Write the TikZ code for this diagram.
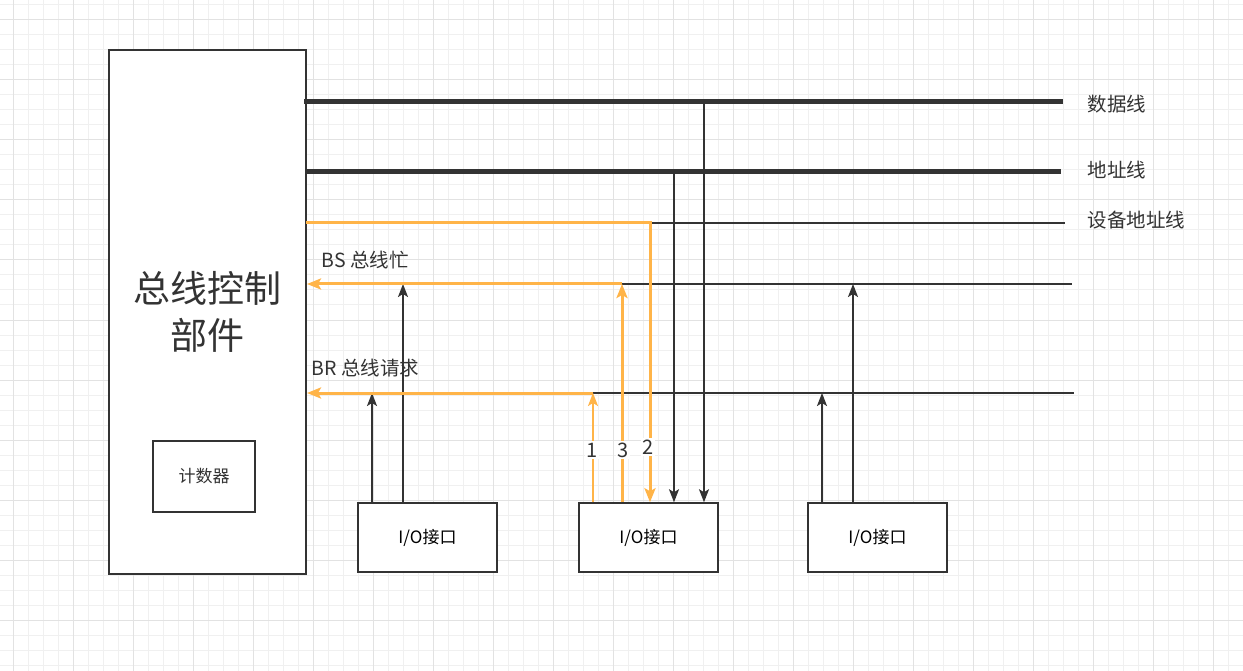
\documentclass[tikz,border=0pt]{standalone}
\usepackage{fontspec}
\setmainfont{Noto Sans CJK SC}
\usetikzlibrary{arrows.meta}
\definecolor{busorange}{RGB}{255,180,72}
\definecolor{busdark}{RGB}{51,51,51}
\definecolor{gridminor}{RGB}{240,240,240}
\definecolor{gridmajor}{RGB}{226,226,226}
\tikzstyle{unit} = [
    rectangle,
    draw=busdark,
    line width=1.5pt,
    inner sep=0pt
]
\tikzstyle{iobox} = [
    unit,
    minimum width=139pt,
    minimum height=69pt,
    font=\fontsize{17}{20}\selectfont
]
\tikzstyle{buslabel} = [anchor=west, text=busdark, font=\fontsize{19.5}{23}\selectfont]
\tikzstyle{num} = [fill=white, inner sep=1.5pt, text=busdark, font=\fontsize{20}{24}\selectfont]
\tikzstyle{thickbus} = [draw=busdark, line width=5pt]
\tikzstyle{thinbus} = [draw=busdark, line width=1.5pt]
\tikzstyle{darrow} = [draw=busdark, line width=1.8pt, -{Stealth[length=13pt,width=10pt,inset=3pt]}]
\tikzstyle{oarrow} = [draw=busorange, line width=3pt, -{Stealth[length=14pt,width=11pt,inset=3pt]}]
\tikzstyle{othin} = [draw=busorange, line width=1.5pt, -{Stealth[length=13pt,width=10pt,inset=3pt]}]

\begin{document}
\begin{tikzpicture}[x=1pt, y=-1pt]

\useasboundingbox (0,0) rectangle (1243,671);
\fill[white] (0,0) rectangle (1243,671);
\foreach \gx in {13,28,...,1243} \draw[gridminor, line width=1pt] (\gx,0) -- (\gx,671);
\foreach \gy in {5,20,...,671} \draw[gridminor, line width=1pt] (0,\gy) -- (1243,\gy);
\foreach \gx in {13,73,...,1243} \draw[gridmajor, line width=1pt] (\gx,0) -- (\gx,671);
\foreach \gy in {20,80,...,671} \draw[gridmajor, line width=1pt] (0,\gy) -- (1243,\gy);

\node (ctrl) [unit, fill=white, minimum width=197pt, minimum height=524pt, align=center,
    text=busdark, font=\fontsize{37}{47}\selectfont] at (207.5,312) {总线控制\\部件};
\node (counter) [unit, minimum width=102pt, minimum height=71pt,
    text=busdark, font=\fontsize{17}{20}\selectfont] at (204,476.5) {计数器};

\node (io1) [iobox, fill=white] at (427.5,537.5) {I/O接口};
\node (io2) [iobox, fill=white] at (648.5,537.5) {I/O接口};
\node (io3) [iobox, fill=white] at (877.5,537.5) {I/O接口};

\coordinate (dataW) at (304,102);
\coordinate (dataE) at (1063,102);
\coordinate (addrW) at (306,172);
\coordinate (addrE) at (1061,172);
\coordinate (devW) at (306,223);
\coordinate (devT) at (650,223);
\coordinate (devE) at (1065,223);
\coordinate (bsW) at (307,284);
\coordinate (bsT) at (622,284);
\coordinate (bsE) at (1072,284);
\coordinate (brW) at (307,393);
\coordinate (brT) at (593,393);
\coordinate (brE) at (1074,393);

\coordinate (dataTap) at (704,102);
\coordinate (addrTap) at (674,172);
\coordinate (bs1) at (403,284);
\coordinate (br1) at (372,393);
\coordinate (bs3) at (853,284);
\coordinate (br3) at (822,393);

\draw [thickbus] (dataW) -- (dataE);
\draw [thickbus] (addrW) -- (addrE);
\draw [thinbus] (devT) -- (devE);
\draw [thinbus] (bsT) -- (bsE);
\draw [thinbus] (brT) -- (brE);

\node (datalbl) [buslabel] at (1084,104) {数据线};
\node (addrlbl) [buslabel] at (1084,170) {地址线};
\node (devlbl) [buslabel] at (1084,220) {设备地址线};
\node (bslbl) [buslabel] at (318,260) {BS 总线忙};
\node (brlbl) [buslabel] at (308,368) {BR 总线请求};

\draw [darrow] (dataTap) -- (io2.north -| dataTap);
\draw [darrow] (addrTap) -- (io2.north -| addrTap);
\draw [darrow] (io1.north -| br1) -- (br1);
\draw [darrow] (io1.north -| bs1) -- (bs1);
\draw [darrow] (io3.north -| br3) -- (br3);
\draw [darrow] (io3.north -| bs3) -- (bs3);

\draw [oarrow] (devW) -- (devT) -- (io2.north -| devT);
\draw [oarrow] (io2.north -| bsT) -- (bsT);
\draw [oarrow] (bsT) -- (bsW);
\draw [othin] (io2.north -| brT) -- (brT);
\draw [oarrow] (brT) -- (brW);

\node (n1) [num] at (592,450) {1};
\node (n3) [num] at (623,450) {3};
\node (n2) [num] at (648,447) {2};

\end{tikzpicture}
\end{document}
